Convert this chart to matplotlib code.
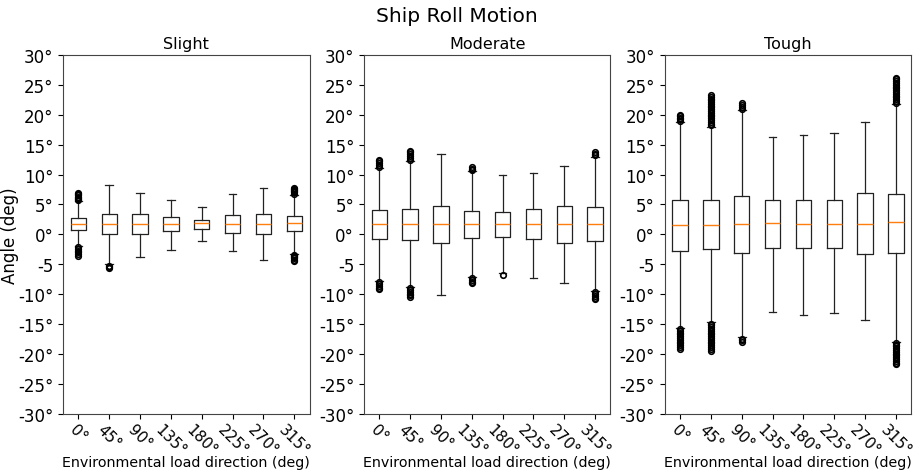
import numpy as np
import matplotlib
matplotlib.use("Agg")
import matplotlib.pyplot as plt

directions = ["0°", "45°", "90°", "135°", "180°", "225°", "270°", "315°"]
conditions = ["Slight", "Moderate", "Tough"]

# box stats (deg)
# Slight
slight_med = [1.8, 1.8, 1.8, 1.7, 1.9, 1.8, 1.8, 1.9]
slight_q1 = [0.8, 0.1, 0.1, 0.6, 0.9, 0.3, 0.1, 0.5]
slight_q3 = [2.8, 3.4, 3.4, 2.9, 2.4, 3.2, 3.4, 3.0]
slight_lo = [-1.9, -5.0, -3.8, -2.6, -1.1, -2.8, -4.2, -3.2]
slight_hi = [5.5, 8.3, 6.9, 5.8, 4.6, 6.8, 7.7, 6.6]
slight_fliers = [
    [5.7, 5.9, 6.1, 6.3, 6.5, 6.7, 6.9, -2.1, -2.4, -2.7, -3.0, -3.3, -3.6],
    [-5.2, -5.4, -5.6],
    [], [], [], [], [],
    [6.8, 7.0, 7.2, 7.4, 7.6, 7.8, -3.4, -3.6, -3.8, -4.0, -4.2, -4.4],
]

# Moderate
moderate_med = [1.8, 1.7, 1.8, 1.8, 1.8, 1.8, 1.8, 1.8]
moderate_q1 = [-0.7, -1.0, -1.4, -0.6, -0.4, -0.7, -1.4, -1.1]
moderate_q3 = [4.0, 4.2, 4.7, 3.9, 3.8, 4.2, 4.8, 4.5]
moderate_lo = [-7.8, -8.8, -10.1, -7.1, -6.4, -7.2, -8.1, -9.5]
moderate_hi = [11.1, 12.3, 13.4, 10.6, 9.9, 10.2, 11.5, 13.0]
moderate_fliers = [
    [11.3, 11.6, 11.9, 12.2, 12.5, -8.0, -8.3, -8.6, -8.9, -9.2],
    [12.5, 12.8, 13.1, 13.4, 13.7, 14.0, -9.0, -9.3, -9.6, -9.9, -10.2, -10.5],
    [],
    [10.8, 11.0, 11.3, -7.3, -7.6, -7.9, -8.2],
    [-6.7],
    [], [],
    [13.2, 13.5, 13.8, -9.7, -10.0, -10.3, -10.6, -10.8],
]

# Tough
tough_med = [1.6, 1.5, 1.7, 1.9, 1.8, 1.7, 1.8, 2.0]
tough_q1 = [-2.8, -2.5, -3.1, -2.3, -2.3, -2.2, -3.2, -3.1]
tough_q3 = [5.8, 5.7, 6.4, 5.7, 5.7, 5.7, 6.9, 6.8]
tough_lo = [-15.6, -14.7, -17.2, -12.9, -13.4, -13.1, -14.3, -17.9]
tough_hi = [18.7, 18.0, 20.8, 16.3, 16.6, 16.9, 18.7, 21.8]
tough_fliers = [
    [18.9, 19.2, 19.5, 19.8, 20.0,
     -15.8, -16.1, -16.4, -16.7, -17.0, -17.3, -17.6, -17.9, -18.2, -18.5, -18.8, -19.1],
    [18.2, 18.5, 18.8, 19.1, 19.4, 19.7, 20.0, 20.3, 20.6, 20.9, 21.2, 21.5, 21.8,
     22.1, 22.4, 22.7, 23.0, 23.3,
     -14.9, -15.2, -15.5, -15.8, -16.1, -16.4, -16.7, -17.0, -17.3, -17.6, -17.9,
     -18.2, -18.5, -18.8, -19.1, -19.4],
    [21.0, 21.3, 21.6, 21.9, -17.4, -17.7, -17.9],
    [], [], [], [],
    [22.0, 22.3, 22.6, 22.9, 23.2, 23.5, 23.8, 24.1, 24.4, 24.7, 25.0, 25.3, 25.6, 25.9, 26.1,
     -18.1, -18.4, -18.7, -19.0, -19.3, -19.6, -19.9, -20.2, -20.5, -20.8, -21.1, -21.4, -21.7],
]

yticks = [-30, -25, -20, -15, -10, -5, 0, 5, 10, 15, 20, 25, 30]
ytick_labels = ["-30°", "-25°", "-20°", "-15°", "-10°", "-5", "0°",
                "5°", "10°", "15°", "20°", "25°", "30°"]

panels = [
    (slight_med, slight_q1, slight_q3, slight_lo, slight_hi, slight_fliers),
    (moderate_med, moderate_q1, moderate_q3, moderate_lo, moderate_hi, moderate_fliers),
    (tough_med, tough_q1, tough_q3, tough_lo, tough_hi, tough_fliers),
]

fig, axes = plt.subplots(1, 3, figsize=(9.14, 4.77), dpi=100)
fig.subplots_adjust(left=0.069, right=0.997, top=0.883, bottom=0.13, wspace=0.22)

flier_style = dict(marker="o", markersize=4, markeredgecolor="black", markeredgewidth=1.2)
line_style = dict(color="#222222", linewidth=0.9)

for ax, name, (med, q1, q3, lo, hi, fl) in zip(axes, conditions, panels):
    stats = []
    for i in range(len(directions)):
        stats.append({"med": med[i], "q1": q1[i], "q3": q3[i],
                      "whislo": lo[i], "whishi": hi[i], "fliers": fl[i]})
    ax.bxp(stats, showfliers=True, flierprops=flier_style,
           boxprops=line_style, whiskerprops=line_style, capprops=line_style)
    ax.set_ylim(-30, 30)
    ax.set_yticks(yticks)
    ax.set_yticklabels(ytick_labels, fontsize=12)
    ax.set_xticks(range(1, len(directions) + 1))
    ax.set_xticklabels(directions, rotation=-45, fontsize=11)
    ax.tick_params(axis="x", pad=2)
    ax.set_title(name, fontsize=11.5, pad=5)
    ax.set_xlabel("Environmental load direction (deg)", fontsize=10.3)
    ax.xaxis.set_label_coords(0.5, -0.115)
    for sp in ax.spines.values():
        sp.set_color("#444444")

axes[0].set_ylabel("Angle (deg)", fontsize=12)
axes[0].yaxis.set_label_coords(-0.18, 0.5)
fig.suptitle("Ship Roll Motion", fontsize=14.5, y=0.985)

plt.savefig("out.png")
